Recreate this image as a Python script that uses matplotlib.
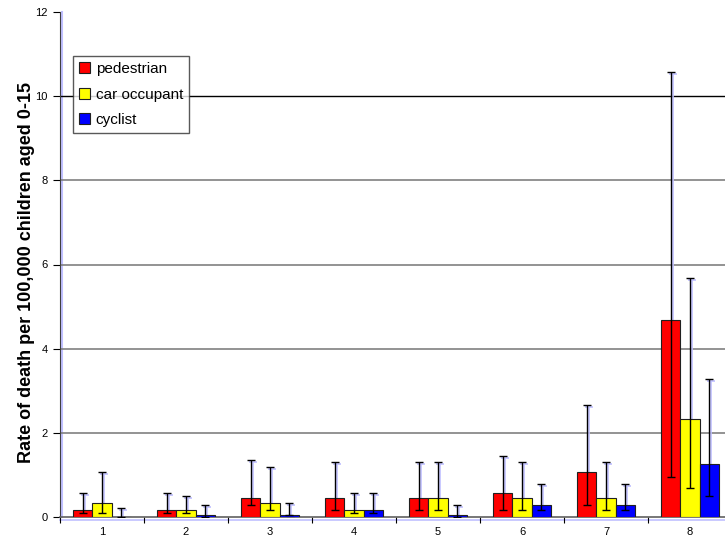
import numpy as np
import matplotlib
matplotlib.use('Agg')
import matplotlib.pyplot as plt
import matplotlib.transforms as mtransforms
from matplotlib.ticker import FixedLocator

plt.rcParams['font.family'] = ['Liberation Sans', 'DejaVu Sans']

# death rates per 100,000 children aged 0-15, by group, with confidence limits
groups = ['1', '2', '3', '4', '5', '6', '7', '8']
pedestrian = [0.17, 0.17, 0.45, 0.45, 0.45, 0.56, 1.07, 4.67]
pedestrian_lo = [0.10, 0.10, 0.28, 0.17, 0.17, 0.17, 0.28, 0.96]
pedestrian_hi = [0.56, 0.56, 1.35, 1.31, 1.31, 1.46, 2.67, 10.58]
car = [0.33, 0.17, 0.33, 0.17, 0.45, 0.45, 0.45, 2.33]
car_lo = [0.10, 0.10, 0.17, 0.10, 0.17, 0.17, 0.17, 0.68]
car_hi = [1.08, 0.50, 1.18, 0.56, 1.31, 1.31, 1.31, 5.68]
cyclist = [0.0, 0.05, 0.05, 0.17, 0.05, 0.28, 0.28, 1.25]
cyclist_lo = [0.0, 0.0, 0.05, 0.10, 0.0, 0.17, 0.17, 0.50]
cyclist_hi = [0.22, 0.28, 0.33, 0.56, 0.28, 0.78, 0.78, 3.29]

series = [
    ('pedestrian', pedestrian, pedestrian_lo, pedestrian_hi, '#ff0000'),
    ('car occupant', car, car_lo, car_hi, '#ffff00'),
    ('cyclist', cyclist, cyclist_lo, cyclist_hi, '#0000ff'),
]

fig = plt.figure(figsize=(7.25, 5.44), dpi=100)
ax = fig.add_axes([60 / 725, 27 / 544, 672 / 725, 505 / 544])

# pale shadow drawn a couple of pixels right/down of each error bar, behind the bars
shadow = mtransforms.offset_copy(ax.transData, fig=fig, x=2, y=-2, units='dots')

x = np.arange(1, len(groups) + 1)
width = 0.227
for i, (name, vals, lo, hi, color) in enumerate(series):
    vals = np.array(vals)
    pos = x + (i - 1) * width
    ax.bar(pos, vals, width, color=color, edgecolor='#202020', linewidth=0.8,
           label=name, zorder=3)
    yerr = [vals - np.array(lo), np.array(hi) - vals]
    ax.errorbar(pos, vals, yerr=yerr, fmt='none', ecolor='#c0c0ff',
                elinewidth=1.2, capsize=3, capthick=1.2, zorder=2,
                transform=shadow)
    ax.errorbar(pos, vals, yerr=yerr, fmt='none', ecolor='black',
                elinewidth=1.0, capsize=3, capthick=1.0, zorder=4)

ax.set_xlim(0.5, len(groups) + 0.5)
ax.set_ylim(0, 12)

for yv in [2, 4, 6, 8]:
    ax.axhline(yv, color='#808080', linewidth=1.2, zorder=1)
ax.axhline(10, color='black', linewidth=1.0, zorder=1)

ax.set_yticks([0, 2, 4, 6, 8, 10, 12])
ax.tick_params(axis='y', direction='out', length=5, width=0.8, labelsize=8, pad=4)
ax.set_xticks(x)
ax.set_xticklabels(groups)
ax.xaxis.set_minor_locator(FixedLocator(np.arange(0.5, len(groups) + 1, 1.0)))
ax.tick_params(axis='x', which='major', length=0, labelsize=8, pad=7)
ax.tick_params(axis='x', which='minor', direction='out', length=4, width=0.8)

for side in ['top', 'right']:
    ax.spines[side].set_visible(False)
ax.spines['left'].set_color('#404040')
ax.spines['bottom'].set_color('#606060')
ax.spines['bottom'].set_linewidth(1.2)
# light blue edge along the axes
ax.plot([0.003, 0.003], [0, 1], transform=ax.transAxes, color='#c0c0ff',
        linewidth=1.5, clip_on=False, zorder=0)
ax.plot([0, 1], [-0.006, -0.006], transform=ax.transAxes, color='#c0c0ff',
        linewidth=1.2, clip_on=False, zorder=0)

ax.set_ylabel('Rate of death per 100,000 children aged 0-15', fontsize=13,
              fontweight='bold')
ax.yaxis.set_label_coords(-0.037, 0.485)

leg = ax.legend(loc='upper left', bbox_to_anchor=(0.019, 0.913), fontsize=11,
                frameon=True, fancybox=False, edgecolor='#303030',
                handlelength=0.7, handleheight=0.7, handletextpad=0.4,
                borderpad=0.4, labelspacing=0.75, borderaxespad=0)
leg.get_frame().set_linewidth(1.0)
leg.set_zorder(5)

fig.savefig('out.png', dpi=100)
